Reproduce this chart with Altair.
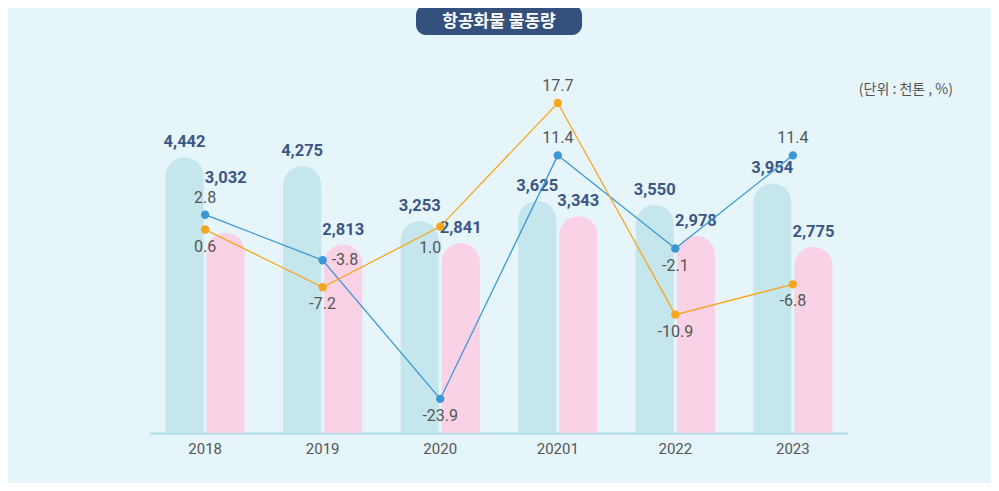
import altair as alt
import pandas as pd

# ---------------- data ----------------
years = ["2018", "2019", "2020", "20201", "2022", "2023"]
cargo_a = [4442, 4275, 3253, 3625, 3550, 3954]   # teal bars (천톤)
cargo_b = [3032, 2813, 2841, 3343, 2978, 2775]   # pink bars (천톤)
rate_a = [2.8, -3.8, -23.9, 11.4, -2.1, 11.4]    # blue line (%)
rate_b = [0.6, -7.2, 1.0, 17.7, -10.9, -6.8]     # orange line (%)

title_text = "항공화물 물동량"
unit_text = "(단위 : 천톤 , %)"

# ---------------- style ----------------
BG = "#e6f5fa"
TEAL = "#c4e6ec"
PINK = "#f9d3e5"
BLUE = "#3a97d5"
ORANGE = "#f8a51e"
NAVY = "#34517e"
LABEL = "#3c5785"
GRAY = "#555555"
AXIS = "#a9dbe6"
FONT = "Roboto, sans-serif"
KFONT = "Noto Sans CJK KR"

W, H = 698, 373
BAR_FLOOR = -700
BAR_TOP = 6255

# label placement styles
place_a = ["above", "right", "below", "above", "below", "above"]
place_b = ["below", "below", "belowleft", "above", "below", "below"]
lift_b = [True, False, False, False, False, False]
PLACE = {
    "above": dict(dy=-17, align="center"),
    "below": dict(dy=17, align="center"),
    "right": dict(dx=9, dy=0, align="left"),
    "belowleft": dict(dx=-10, dy=21, align="center"),
}

# ---------------- tables ----------------
bar_rows = []
for i, y in enumerate(years):
    bar_rows.append({"year": y, "series": "A", "value": cargo_a[i],
                     "label": f"{cargo_a[i]:,}", "lift": False})
    bar_rows.append({"year": y, "series": "B", "value": cargo_b[i],
                     "label": f"{cargo_b[i]:,}", "lift": lift_b[i]})
bar_df = pd.DataFrame(bar_rows)

def rate_df(vals, places):
    return pd.DataFrame({"year": years, "rate": vals,
                         "label": [f"{v:.1f}" for v in vals],
                         "place": places})

blue_df = rate_df(rate_a, place_a)
orange_df = rate_df(rate_b, place_b)

X = alt.X("year:N", sort=years,
          scale=alt.Scale(paddingInner=0.326, paddingOuter=0.132),
          axis=alt.Axis(title=None, ticks=False, grid=False, domainColor=AXIS,
                        domainWidth=2, labelFont=FONT, labelFontSize=15,
                        labelColor=GRAY, labelPadding=8, labelAngle=0))
XO = alt.XOffset("series:N", sort=["A", "B"],
                 scale=alt.Scale(paddingInner=0.073, paddingOuter=0))

# ---------------- bars ----------------
ybar = alt.Y("value:Q", scale=alt.Scale(domain=[BAR_FLOOR, BAR_TOP], nice=False, zero=False), axis=None)
bars = alt.Chart(bar_df).mark_bar(cornerRadiusTopLeft=19, cornerRadiusTopRight=19).encode(
    x=X, xOffset=XO, y=ybar, y2=alt.datum(BAR_FLOOR),
    color=alt.Color("series:N", scale=alt.Scale(domain=["A", "B"], range=[TEAL, PINK]), legend=None),
)
bar_text_base = alt.Chart(bar_df).encode(x=X, xOffset=XO, y=ybar, text="label:N")
bar_labels = bar_text_base.mark_text(font=FONT, fontSize=16.5, fontWeight="bold", color=LABEL,
                                     baseline="middle", dy=-15).transform_filter("!datum.lift")
bar_labels_lift = bar_text_base.mark_text(font=FONT, fontSize=16.5, fontWeight="bold", color=LABEL,
                                          baseline="middle", dy=-55).transform_filter("datum.lift")
bar_layer = alt.layer(bars, bar_labels, bar_labels_lift)

# ---------------- lines ----------------
def line_layer(df, color, domain):
    yl = alt.Y("rate:Q", scale=alt.Scale(domain=domain, nice=False, zero=False), axis=None)
    base = alt.Chart(df).encode(x=X, y=yl)
    parts = [
        base.mark_line(color=color, strokeWidth=1.3),
        base.mark_point(filled=True, size=70, color=color, opacity=1),
    ]
    for key, opts in PLACE.items():
        parts.append(
            base.mark_text(font=FONT, fontSize=16, color=GRAY, baseline="middle", **opts)
            .encode(text="label:N")
            .transform_filter(alt.datum.place == key)
        )
    return alt.layer(*parts)

blue_layer = line_layer(blue_df, BLUE, [-28.84, 25.22])
orange_layer = line_layer(orange_df, ORANGE, [-26.89, 23.51])

# ---------------- decorations ----------------
one = alt.Data(values=[{}])
pill = alt.Chart(one).mark_rect(color=NAVY, cornerRadius=10).encode(
    x=alt.value(266), x2=alt.value(432), y=alt.value(-55), y2=alt.value(-25))
title = alt.Chart(one).mark_text(text=title_text, font=KFONT, fontSize=17, fontWeight="bold",
                                 color="white", baseline="middle").encode(
    x=alt.value(349), y=alt.value(-38))
unit = alt.Chart(one).mark_text(text=unit_text, font=KFONT, fontSize=14, color=GRAY,
                                align="right", baseline="middle").encode(
    x=alt.value(803), y=alt.value(30))

chart = alt.layer(bar_layer, blue_layer, orange_layer, pill, title, unit).resolve_scale(
    y="independent", color="independent"
).properties(
    width=W, height=H,
    autosize=alt.AutoSizeParams(type="none"),
    padding={"left": 142, "top": 52, "right": 143, "bottom": 50},
    background=BG,
).configure_view(stroke=None)

chart.save("out.html", embed_options={"renderer": "svg", "actions": False})
